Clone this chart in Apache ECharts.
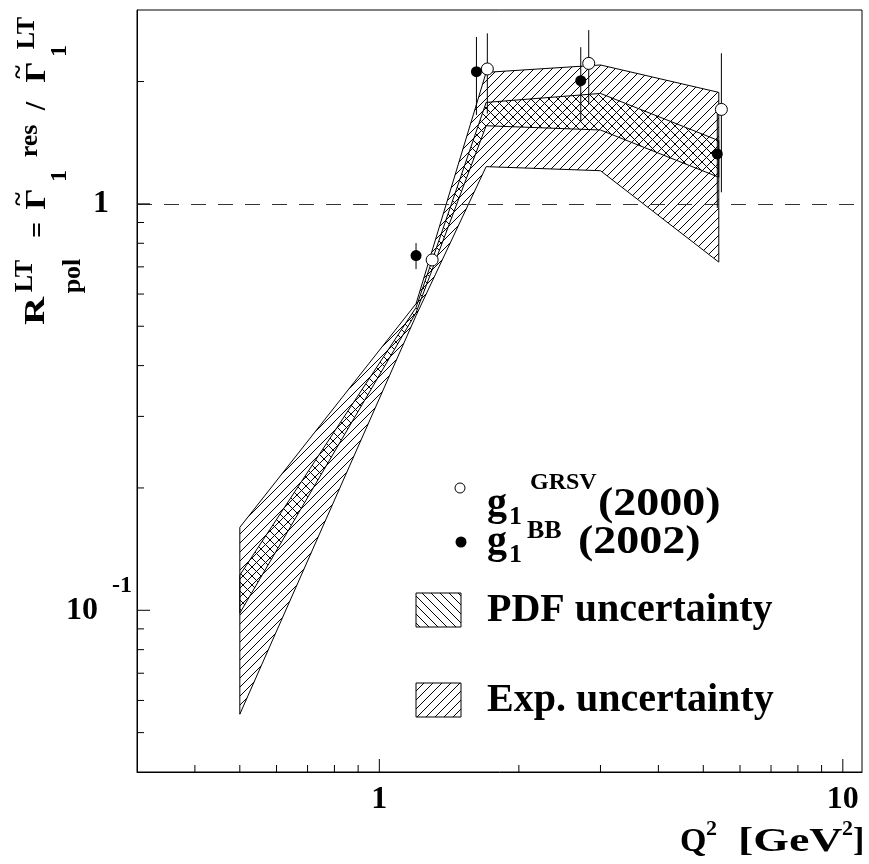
<!DOCTYPE html>
<html><head><meta charset="utf-8">
<script src="https://cdn.jsdelivr.net/npm/echarts@6/dist/echarts.min.js"></script>
<style>html,body{margin:0;padding:0;background:#fff}#c{width:869px;height:864px}</style>
</head><body><div id="c"></div>
<script>
// ---------- data ----------
const xRange = [0.3, 11];
const yRange = [0.04, 3];

const bandX    = [0.5, 1.2, 1.7, 3.0, 5.4];
const expUpper = [0.160, 0.568, 2.107, 2.197, 1.881];
const expLower = [0.0555, 0.531, 1.235, 1.207, 0.719];
const pdfUpper = [0.122, 0.556, 1.777, 1.870, 1.431];
const pdfLower = [0.0984, 0.540, 1.557, 1.520, 1.163];

const grsvX   = [1.30, 1.71, 2.83, 5.47];
const grsvY   = [0.728, 2.148, 2.217, 1.708];
const grsvErr = [0.02, 0.48, 0.46, 0.64];
const bbX     = [1.20, 1.62, 2.72, 5.36];
const bbY     = [0.746, 2.115, 2.01, 1.327];
const bbErr   = [0.055, 0.46, 0.42, 0.35];

const xMajorTicks = [1, 10];
const xMinorTicks = [0.4, 0.5, 0.6, 0.7, 0.8, 0.9, 2, 3, 4, 5, 6, 7, 8, 9];
const yMajorTicks = [0.1, 1];
const yMinorTicks = [0.05, 0.06, 0.07, 0.08, 0.09, 0.2, 0.3, 0.4, 0.5, 0.6, 0.7, 0.8, 0.9, 2];
const refLevel = 1;

// ---------- helpers ----------
const SERIF = '"Liberation Serif","Times New Roman",serif';
function hatch(dir) {
  const s = 9;
  const c = document.createElement('canvas');
  c.width = s; c.height = s;
  const g = c.getContext('2d');
  g.strokeStyle = '#000'; g.lineWidth = 1;
  g.beginPath();
  if (dir === '/') {
    g.moveTo(-1, s + 1); g.lineTo(s + 1, -1);
    g.moveTo(-1, 1); g.lineTo(1, -1);
    g.moveTo(s - 1, s + 1); g.lineTo(s + 1, s - 1);
  } else {
    g.moveTo(-1, -1); g.lineTo(s + 1, s + 1);
    g.moveTo(s - 1, -1); g.lineTo(s + 1, 1);
    g.moveTo(-1, s - 1); g.lineTo(1, s + 1);
  }
  g.stroke();
  return { image: c, repeat: 'repeat' };
}
const patFwd = hatch('/');
const patBack = hatch('\\');

function bandSeries(upper, lower, pat, z) {
  return {
    type: 'custom', z: z, silent: true, clip: true,
    data: bandX.map((x, i) => [x, upper[i], lower[i]]),
    renderItem: function (params, api) {
      if (params.dataIndex !== 0) return null;
      const pts = [];
      for (let i = 0; i < bandX.length; i++) pts.push(api.coord([bandX[i], upper[i]]));
      for (let i = bandX.length - 1; i >= 0; i--) pts.push(api.coord([bandX[i], lower[i]]));
      return { type: 'polygon', shape: { points: pts },
        style: { fill: pat, stroke: '#000', lineWidth: 1 } };
    }
  };
}
function errSeries(xs, ys, es) {
  return {
    type: 'custom', z: 5, silent: true,
    data: xs.map((x, i) => [x, ys[i], es[i]]),
    renderItem: function (params, api) {
      const x = api.value(0), y = api.value(1), e = api.value(2);
      const a = api.coord([x, y - e]), b = api.coord([x, y + e]);
      return { type: 'line', shape: { x1: a[0], y1: a[1], x2: b[0], y2: b[1] },
        style: { stroke: '#000', lineWidth: 1 } };
    }
  };
}
function tickSeries(data, horizontal) {
  return {
    type: 'custom', z: 6, silent: true, clip: false,
    data: data,
    renderItem: function (params, api) {
      const p = api.coord([api.value(0), api.value(1)]);
      const L = api.value(2);
      const shape = horizontal
        ? { x1: p[0], y1: p[1], x2: p[0] + L, y2: p[1] }
        : { x1: p[0], y1: p[1], x2: p[0], y2: p[1] - L };
      return { type: 'line', shape: shape, style: { stroke: '#000', lineWidth: 1 } };
    }
  };
}
const xTickData = xMajorTicks.map(v => [v, yRange[0], 13]).concat(xMinorTicks.map(v => [v, yRange[0], 7]));
const yTickData = yMajorTicks.map(v => [xRange[0], v, 13]).concat(yMinorTicks.map(v => [xRange[0], v, 7]));

function isPow(v, p) { return Math.abs(Math.log10(v) - p) < 1e-6; }

function txt(t, x, y, size, opts) {
  opts = opts || {};
  return {
    type: 'text', x: x, y: y, rotation: opts.rot || 0, scaleX: opts.sx || 1, scaleY: 1, z: 20,
    style: { text: t, fill: '#000', font: 'bold ' + size + 'px ' + SERIF,
      textAlign: opts.align || 'left', align: opts.align || 'left',
      textVerticalAlign: 'middle', verticalAlign: 'middle' }
  };
}
const R90 = Math.PI / 2;
function rt(t, x, y, size, sx) { return txt(t, x, y, size, { rot: R90, align: 'center', sx: sx || 1 }); }

const graphics = [
  // y title (rotated)
  rt('R', 36, 311, 30, 1.3),
  rt('LT', 25, 276, 26),
  rt('pol', 73, 276, 26),
  rt('=', 39, 230, 28),
  rt('Γ', 37, 199, 30, 1.1),
  rt('~', 19, 199, 26),
  rt('1', 60, 176, 24),
  rt('res', 30, 141, 26),
  rt('/', 37, 106, 30),
  rt('Γ', 37, 72, 30, 1.1),
  rt('~', 19, 72, 26),
  rt('1', 60, 51, 24),
  rt('LT', 27, 33, 26),
  // x title
  txt('Q', 680, 842, 34),
  txt('2', 706, 829, 22),
  txt('[GeV', 738, 842, 34, { sx: 1.35 }),
  txt('2', 842, 829, 22),
  txt(']', 853, 842, 34),
  // legend
  { type: 'circle', shape: { cx: 460, cy: 488, r: 5 }, style: { fill: '#fff', stroke: '#000', lineWidth: 1 }, z: 20 },
  { type: 'circle', shape: { cx: 461, cy: 542, r: 5.5 }, style: { fill: '#000' }, z: 20 },
  txt('g', 487, 505, 40),
  txt('1', 509, 517, 26),
  txt('GRSV', 530, 483, 24),
  txt('(2000)', 598, 505, 40, { sx: 1.15 }),
  txt('g', 487, 543, 40),
  txt('1', 509, 555, 26),
  txt('BB', 527, 531, 26),
  txt('(2002)', 578, 543, 40, { sx: 1.15 }),
  { type: 'rect', shape: { x: 416, y: 593, width: 45, height: 34 }, style: { fill: patBack, stroke: '#000', lineWidth: 1 }, z: 20 },
  txt('PDF uncertainty', 487, 611, 40),
  { type: 'rect', shape: { x: 416, y: 683, width: 45, height: 34 }, style: { fill: patFwd, stroke: '#000', lineWidth: 1 }, z: 20 },
  txt('Exp. uncertainty', 487, 701, 40)
];

const chart = echarts.init(document.getElementById('c'), null, { renderer: 'canvas' });
chart.setOption({
  backgroundColor: '#fff',
  animation: false,
  grid: { left: 137, top: 10, right: 7, bottom: 92, show: true, borderColor: '#000', borderWidth: 1, backgroundColor: '#fff' },
  xAxis: {
    type: 'log', logBase: 10, min: xRange[0], max: xRange[1],
    axisLine: { show: true, lineStyle: { color: '#000', width: 1 } },
    axisTick: { show: false }, splitLine: { show: false }, minorTick: { show: false },
    axisLabel: { margin: 12, color: '#000', fontSize: 32, fontWeight: 'bold', fontFamily: SERIF,
      formatter: v => isPow(v, 0) ? '1' : (isPow(v, 1) ? '10' : '') }
  },
  yAxis: {
    type: 'log', logBase: 10, min: yRange[0], max: yRange[1],
    axisLine: { show: true, lineStyle: { color: '#000', width: 1 } },
    axisTick: { show: false }, splitLine: { show: false }, minorTick: { show: false },
    axisLabel: { margin: 5, color: '#000',
      formatter: v => isPow(v, 0) ? '{one|1}' : (isPow(v, -1) ? '{ten|10}{sup|-1}' : ''),
      rich: {
        one: { fontSize: 32, fontWeight: 'bold', fontFamily: SERIF, color: '#000', padding: [0, 23, 0, 0] },
        ten: { fontSize: 32, fontWeight: 'bold', fontFamily: SERIF, color: '#000', lineHeight: 72, verticalAlign: 'middle' },
        sup: { fontSize: 24, fontWeight: 'bold', fontFamily: SERIF, color: '#000', lineHeight: 24, verticalAlign: 'top', padding: [0, 0, 0, 14] }
      } }
  },
  series: [
    bandSeries(expUpper, expLower, patFwd, 2),
    bandSeries(pdfUpper, pdfLower, patBack, 3),
    errSeries(grsvX, grsvY, grsvErr),
    errSeries(bbX, bbY, bbErr),
    { type: 'scatter', z: 8, silent: true, symbol: 'circle', symbolSize: 12,
      data: grsvX.map((x, i) => [x, grsvY[i]]),
      itemStyle: { color: '#fff', borderColor: '#000', borderWidth: 1, opacity: 1 },
      markLine: { silent: true, symbol: ['none', 'none'], label: { show: false },
        lineStyle: { type: [15, 12], color: '#333', width: 1 },
        data: [{ yAxis: refLevel }] } },
    { type: 'scatter', z: 9, silent: true, symbol: 'circle', symbolSize: 11,
      data: bbX.map((x, i) => [x, bbY[i]]),
      itemStyle: { color: '#000', opacity: 1 } },
    tickSeries(xTickData, false),
    tickSeries(yTickData, true)
  ],
  graphic: graphics
});
</script>
</body></html>
